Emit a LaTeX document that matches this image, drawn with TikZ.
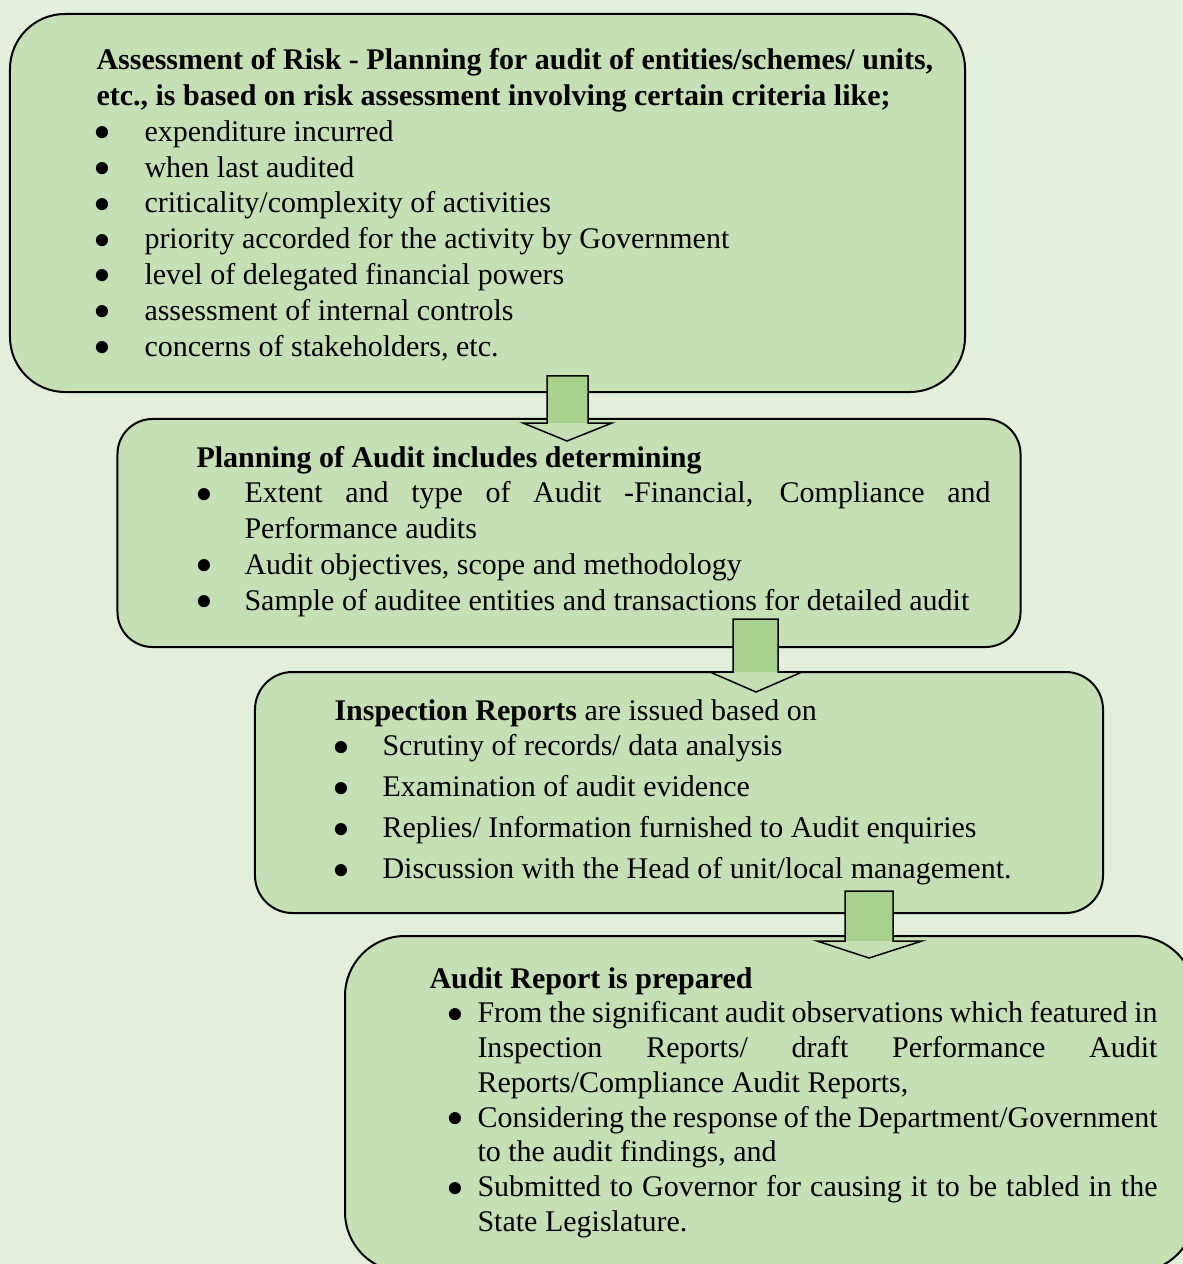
\documentclass[tikz,border=0pt]{standalone}
\usepackage{fontspec}
\setmainfont{Liberation Serif}
\usepackage{tikz}
\definecolor{bggreen}{HTML}{E2EFDA}
\definecolor{boxgreen}{HTML}{C5E0B4}
\definecolor{arrowgreen}{HTML}{A9D18E}
\tikzstyle{stage}=[rectangle, draw=black, line width=0.8pt, fill=boxgreen, inner sep=0pt]
\tikzstyle{stagetext}=[anchor=base west, inner sep=0pt, font=\fontsize{12}{14.3}\selectfont]
\tikzstyle{arrowline}=[draw=black, line width=0.6pt, line join=miter]

\newlength{\bhang}
\setlength{\bhang}{19.2pt}
\newcommand{\bulletmark}{\smash{\raisebox{-3.4pt}{\scalebox{1.7}{\textbullet}}}}
\newcommand{\bpoint}[2][-1.2pt]{\par\noindent\hangindent=\bhang\hangafter=1\makebox[\bhang][l]{\hspace{#1}\bulletmark}#2\par}

\begin{document}
\begin{tikzpicture}[x=0.4pt, y=-0.4pt]
			\clip (0,0) rectangle (1183,1264);
			\fill[bggreen] (0,0) rectangle (1183,1264);
			% boxes
			\node[stage, rounded corners=22pt, minimum width=382pt, minimum height=151.2pt] (risk) at (487.5,203) {};
			\node[stage, rounded corners=14pt, minimum width=361.2pt, minimum height=91.2pt] (plan) at (569,533) {};
			\node[stage, rounded corners=15pt, minimum width=339.2pt, minimum height=96.4pt] (insp) at (679,792.5) {};
			\node[stage, rounded corners=24pt, minimum width=340pt, minimum height=134.4pt] (report) at (770,1104) {};
			% texts
			\node[stagetext, text width=345pt, align=flush left] (risktext) at (96,70) {\textbf{Assessment of Risk - Planning for audit of entities/schemes/ units,\\ etc., is based on risk assessment involving certain criteria like;}
				\bpoint{expenditure incurred}
				\bpoint{when last audited}
				\bpoint{criticality/complexity of activities}
				\bpoint{priority accorded for the activity by Government}
				\bpoint{level of delegated financial powers}
				\bpoint{assessment of internal controls}
				\bpoint{concerns of stakeholders, etc.}};
			\node[stagetext, text width=317.6pt, align=justify] (plantext) at (196,467) {\textbf{Planning of Audit includes determining}
				\bpoint[-0.6pt]{Extent and type of Audit -Financial, Compliance and\linebreak Performance audits}
				\bpoint[-0.6pt]{Audit objectives, scope and methodology}
				\bpoint[-0.6pt]{Sample of auditee entities and transactions for detailed audit}};
			\node[stagetext, text width=280pt, align=flush left] (insptext) at (334,720) {\textbf{Inspection Reports} are issued based on
				\bpoint[-1pt]{Scrutiny of records/ data analysis}\vspace{2.1pt}
				\bpoint[-1pt]{Examination of audit evidence}\vspace{2.1pt}
				\bpoint[-1pt]{Replies/ Information furnished to Audit enquiries}\vspace{2.1pt}
				\bpoint[-1pt]{Discussion with the Head of unit/local management.}};
			\node[stagetext, text width=291.2pt, align=justify, font=\fontsize{12}{13.9}\selectfont] (reporttext) at (429,988) {\textbf{Audit Report is prepared}
				\bpoint[6.8pt]{From the significant audit observations which featured in\linebreak Inspection Reports/ draft Performance Audit\linebreak Reports/Compliance Audit Reports,}
				\bpoint[6.8pt]{Considering the response of the Department/Government\linebreak to the audit findings, and}
				\bpoint[6.8pt]{Submitted to Governor for causing it to be tabled in the\linebreak State Legislature.}};
			% arrows
			\fill[boxgreen] (547,376)--(588,376)--(588,423)--(612,423)--(567,441)--(523,423)--(547,423)--cycle;
			\fill[arrowgreen] (547,376) rectangle (588,423);
			\path[arrowline] (547,376)--(588,376)--(588,423)--(612,423)--(567,441)--(523,423)--(547,423)--cycle;
			\fill[boxgreen] (733,619)--(778,619)--(778,672)--(802,672)--(756,692)--(710,672)--(733,672)--cycle;
			\fill[arrowgreen] (733,619) rectangle (778,672);
			\path[arrowline] (733,619)--(778,619)--(778,672)--(802,672)--(756,692)--(710,672)--(733,672)--cycle;
			\fill[boxgreen] (845,891)--(893,891)--(893,941)--(922,941)--(869,958)--(817,941)--(845,941)--cycle;
			\fill[arrowgreen] (845,891) rectangle (893,941);
			\path[arrowline] (845,891)--(893,891)--(893,941)--(922,941)--(869,958)--(817,941)--(845,941)--cycle;
		\end{tikzpicture}
\end{document}
